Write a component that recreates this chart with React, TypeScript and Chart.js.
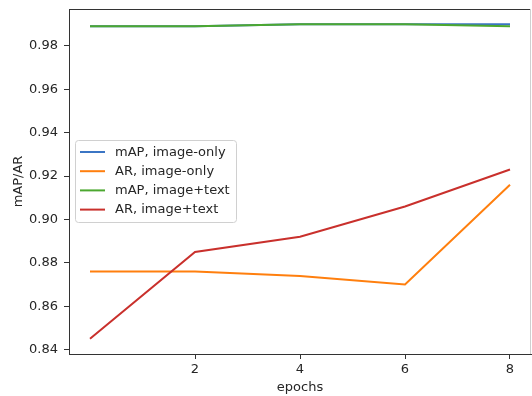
import React, { useEffect, useRef } from "react";
import { Chart, registerables } from "chart.js";

Chart.register(...registerables);

const epochs = [0, 2, 4, 6, 8];
const mapImageOnly = [0.989, 0.989, 0.990, 0.990, 0.990];
const arImageOnly = [0.876, 0.876, 0.874, 0.870, 0.916];
const mapImageText = [0.989, 0.989, 0.990, 0.990, 0.989];
const arImageText = [0.845, 0.885, 0.892, 0.906, 0.923];
const xTicks = [2, 4, 6, 8];
const yTicks = [0.84, 0.86, 0.88, 0.9, 0.92, 0.94, 0.96, 0.98];
const seriesLabels = ["mAP, image-only", "AR, image-only", "mAP, image+text", "AR, image+text"];
const seriesColors = ["#3b75c4", "#ff7f0e", "#4ca830", "#c9302c"];

const FONT = "'DejaVu Sans', sans-serif";
const TEXT = "#262626";

const toPoints = (ys: number[]) => ys.map((y, i) => ({ x: epochs[i], y }));

const framePlugin = {
  id: "frame",
  afterDatasetsDraw(chart: any) {
    const { ctx, chartArea: a } = chart;
    ctx.save();
    ctx.strokeStyle = "#333";
    ctx.lineWidth = 1;
    ctx.beginPath();
    ctx.moveTo(a.left, a.top + 0.5);
    ctx.lineTo(a.right, a.top + 0.5);
    ctx.stroke();
    ctx.strokeStyle = "#cfcfcf";
    ctx.beginPath();
    ctx.moveTo(a.right - 0.5, a.top);
    ctx.lineTo(a.right - 0.5, a.bottom);
    ctx.stroke();
    ctx.restore();
  },
};

const legendPlugin = {
  id: "mplLegend",
  afterDraw(chart: any) {
    const { ctx } = chart;
    const x = 75.5, y = 140.5, w = 161, h = 82;
    ctx.save();
    ctx.fillStyle = "rgba(255,255,255,0.85)";
    ctx.strokeStyle = "#d0d0d0";
    ctx.lineWidth = 1;
    ctx.beginPath();
    ctx.roundRect(x, y, w, h, 3);
    ctx.fill();
    ctx.stroke();
    ctx.font = `13px ${FONT}`;
    ctx.textBaseline = "middle";
    chart.data.datasets.forEach((ds: any, i: number) => {
      const cy = 152 + i * 19.2;
      ctx.strokeStyle = ds.borderColor;
      ctx.lineWidth = 2;
      ctx.beginPath();
      ctx.moveTo(80, cy);
      ctx.lineTo(105, cy);
      ctx.stroke();
      ctx.fillStyle = TEXT;
      ctx.fillText(ds.label, 115, cy + 0.5);
    });
    ctx.restore();
  },
};

export default function App() {
  const ref = useRef<HTMLCanvasElement>(null);
  useEffect(() => {
    const datasets = [mapImageOnly, arImageOnly, mapImageText, arImageText].map((d, i) => ({
      label: seriesLabels[i],
      data: toPoints(d),
      borderColor: seriesColors[i],
      backgroundColor: seriesColors[i],
      borderWidth: 2,
      pointRadius: 0,
      tension: 0,
      fill: false,
      order: 4 - i,
    }));
    const chart = new Chart(ref.current!, {
      type: "line",
      data: { datasets },
      plugins: [framePlugin, legendPlugin],
      options: {
        animation: false,
        responsive: false,
        maintainAspectRatio: false,
        layout: { padding: { top: 9, right: 1, left: 0, bottom: 0 } },
        plugins: { legend: { display: false }, tooltip: { enabled: false } },
        scales: {
          x: {
            type: "linear",
            min: -0.4,
            max: 8.4,
            afterBuildTicks: (axis: any) => {
              axis.ticks = xTicks.map((v) => ({ value: v }));
            },
            afterFit: (axis: any) => {
              axis.height = 42;
              axis.paddingLeft = 0;
              axis.paddingRight = 0;
            },
            grid: { drawOnChartArea: false, drawTicks: true, tickLength: 5, color: "#333" },
            border: { display: true, color: "#333", width: 1 },
            ticks: { color: TEXT, font: { family: FONT, size: 13 }, padding: 3, maxRotation: 0 },
            title: { display: true, text: "epochs", color: TEXT, font: { family: FONT, size: 13 }, padding: { top: 0, bottom: 1 } },
          },
          y: {
            type: "linear",
            min: 0.838,
            max: 0.997,
            afterBuildTicks: (axis: any) => {
              axis.ticks = yTicks.map((v) => ({ value: v }));
            },
            afterFit: (axis: any) => {
              axis.width = 69;
              axis.paddingTop = 0;
              axis.paddingBottom = 0;
            },
            grid: { drawOnChartArea: false, drawTicks: true, tickLength: 5, color: "#333" },
            border: { display: true, color: "#333", width: 1 },
            ticks: {
              color: TEXT,
              font: { family: FONT, size: 13 },
              padding: 6,
              callback: (v: any) => Number(v).toFixed(2),
            },
            title: { display: true, text: "mAP/AR", color: TEXT, font: { family: FONT, size: 13 }, padding: { top: 11, bottom: 4 } },
          },
        },
      },
    });
    return () => chart.destroy();
  }, []);
  return (
    <div style={{ position: "absolute", left: 0, top: 0, width: 532, height: 396, background: "#fff" }}>
      <canvas ref={ref} width={532} height={396} style={{ width: 532, height: 396 }} />
    </div>
  );
}
